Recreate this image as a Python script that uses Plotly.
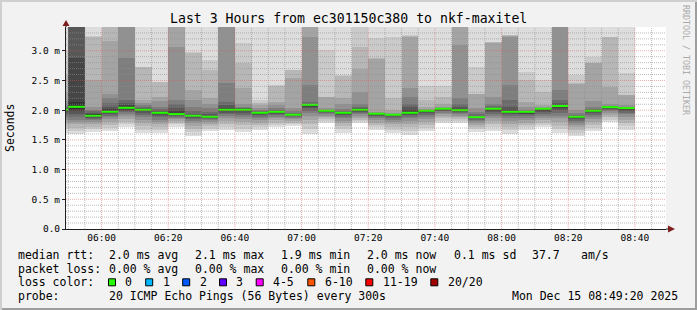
import plotly.graph_objects as go
import pandas as pd

# ---------------- data ----------------
TITLE = "Last 3 Hours from ec301150c380 to nkf-maxitel"
RANGE_START = "2025-12-15 05:49:20"
RANGE_END = "2025-12-15 08:49:20"
FIRST_BAR = "2025-12-15 05:45:00"
STEP_SECONDS = 300

# median rtt per 5-minute step (ms)
median_ms = [2.01, 2.057, 1.906, 1.973, 2.04, 2.007, 1.956, 1.934, 1.906, 1.889,
             2.007, 2.007, 1.956, 1.973, 1.923, 2.09, 1.99, 1.956, 2.007, 1.94,
             1.923, 1.956, 1.99, 2.024, 2.0, 1.884, 2.024, 1.973, 1.973, 2.024,
             2.07, 1.889, 1.99, 2.052, 2.035]

# upper pings per step, ping20 .. ping11 (ms)
upper_ms = [
    [3.6, 3.0, 2.6, 2.3, 2.15, 2.08, 2.05, 2.03, 2.02, 2.012],
    [3.6, 3.6, 3.6, 3.6, 3.6, 3.6, 3.6, 3.6, 2.87, 2.14],
    [3.6, 3.25, 3.24, 2.51, 2.06, 2.01, 1.98, 1.96, 1.94, 1.93],
    [3.6, 3.6, 3.6, 3.16, 2.28, 2.2, 2.12, 2.06, 2.02, 1.99],
    [3.6, 3.6, 3.6, 3.6, 3.6, 2.87, 2.17, 2.12, 2.08, 2.06],
    [3.6, 2.73, 2.72, 2.17, 2.12, 2.08, 2.05, 2.03, 2.02, 2.01],
    [3.6, 2.48, 2.47, 2.23, 2.15, 2.06, 2.02, 1.99, 1.97, 1.96],
    [3.6, 3.6, 3.6, 3.6, 3.07, 2.17, 2.1, 2.03, 1.98, 1.95],
    [3.6, 2.98, 2.96, 2.34, 2.17, 2.05, 1.98, 1.94, 1.92, 1.91],
    [3.6, 2.84, 2.68, 2.2, 2.1, 2.03, 1.97, 1.93, 1.91, 1.895],
    [3.6, 3.6, 3.6, 3.6, 3.6, 2.45, 2.13, 2.08, 2.04, 2.02],
    [3.6, 3.13, 2.79, 2.37, 2.1, 2.06, 2.04, 2.03, 2.02, 2.01],
    [3.6, 2.17, 2.12, 2.08, 2.03, 2.0, 1.98, 1.97, 1.96, 1.958],
    [3.6, 2.42, 2.41, 2.14, 2.08, 2.03, 2.0, 1.99, 1.98, 1.976],
    [3.6, 2.68, 2.67, 2.54, 2.03, 1.99, 1.96, 1.94, 1.93, 1.926],
    [3.6, 3.6, 3.6, 3.6, 3.24, 2.42, 2.13, 2.11, 2.1, 2.095],
    [3.6, 3.01, 2.23, 2.22, 2.03, 2.01, 2.0, 1.996, 1.994, 1.992],
    [3.6, 2.59, 2.58, 2.2, 2.1, 2.02, 1.99, 1.97, 1.96, 1.958],
    [3.6, 3.6, 3.07, 2.7, 2.3, 2.1, 2.05, 2.03, 2.02, 2.01],
    [3.6, 3.21, 2.87, 2.86, 1.97, 1.96, 1.95, 1.946, 1.943, 1.941],
    [3.6, 3.24, 2.2, 2.0, 1.96, 1.94, 1.93, 1.928, 1.926, 1.924],
    [3.6, 3.26, 3.25, 3.24, 2.37, 2.23, 2.1, 2.06, 2.0, 1.97],
    [3.6, 2.4, 2.17, 2.05, 2.02, 2.0, 1.996, 1.994, 1.992, 1.991],
    [3.6, 2.4, 2.23, 2.1, 2.06, 2.04, 2.03, 2.028, 2.026, 2.025],
    [3.6, 3.6, 3.6, 3.6, 3.1, 2.2, 2.1, 2.05, 2.02, 2.005],
    [3.6, 2.73, 2.28, 2.27, 2.03, 1.97, 1.93, 1.91, 1.895, 1.886],
    [3.6, 3.15, 3.14, 3.13, 2.23, 2.11, 2.07, 2.04, 2.03, 2.026],
    [3.6, 3.27, 3.26, 3.25, 3.24, 2.43, 2.17, 2.05, 2.0, 1.976],
    [3.6, 2.65, 2.51, 2.14, 2.05, 2.0, 1.985, 1.98, 1.976, 1.974],
    [3.6, 2.51, 2.31, 2.09, 2.05, 2.04, 2.03, 2.028, 2.026, 2.025],
    [3.6, 3.6, 3.6, 3.6, 3.6, 2.34, 2.17, 2.12, 2.09, 2.075],
    [3.6, 2.59, 2.45, 2.44, 2.0, 1.95, 1.92, 1.9, 1.895, 1.891],
    [3.6, 2.9, 2.8, 2.79, 2.15, 2.06, 2.02, 2.0, 1.995, 1.992],
    [3.6, 3.24, 3.23, 2.39, 2.1, 2.07, 2.06, 2.056, 2.054, 2.053],
    [3.6, 2.62, 2.26, 2.25, 2.09, 2.05, 2.045, 2.04, 2.037, 2.036],
]

# lower pings per step, ping1 .. ping10 (ms)
lower_ms = [
    [1.62, 1.68, 1.73, 1.78, 1.83, 1.87, 1.91, 1.95, 1.98, 2.0],
    [1.6, 1.65, 1.70, 1.76, 1.80, 1.84, 1.88, 1.93, 1.98, 2.02],
    [1.63, 1.68, 1.72, 1.76, 1.80, 1.83, 1.85, 1.87, 1.89, 1.90],
    [1.65, 1.70, 1.75, 1.80, 1.85, 1.88, 1.91, 1.93, 1.95, 1.965],
    [1.71, 1.76, 1.80, 1.85, 1.90, 1.94, 1.97, 1.99, 2.01, 2.03],
    [1.61, 1.67, 1.73, 1.79, 1.84, 1.88, 1.92, 1.95, 1.98, 2.0],
    [1.61, 1.66, 1.71, 1.76, 1.80, 1.84, 1.88, 1.91, 1.93, 1.95],
    [1.72, 1.76, 1.79, 1.82, 1.85, 1.87, 1.89, 1.91, 1.92, 1.93],
    [1.57, 1.63, 1.68, 1.73, 1.78, 1.82, 1.85, 1.87, 1.89, 1.90],
    [1.65, 1.69, 1.73, 1.77, 1.80, 1.83, 1.85, 1.87, 1.88, 1.885],
    [1.67, 1.72, 1.77, 1.82, 1.86, 1.90, 1.93, 1.96, 1.98, 2.0],
    [1.63, 1.69, 1.75, 1.80, 1.85, 1.89, 1.92, 1.95, 1.98, 2.0],
    [1.67, 1.71, 1.75, 1.79, 1.83, 1.86, 1.89, 1.92, 1.94, 1.95],
    [1.71, 1.75, 1.79, 1.83, 1.86, 1.89, 1.92, 1.94, 1.96, 1.97],
    [1.73, 1.76, 1.79, 1.82, 1.85, 1.87, 1.89, 1.90, 1.91, 1.92],
    [1.60, 1.68, 1.76, 1.84, 1.90, 1.95, 1.99, 2.03, 2.06, 2.08],
    [1.79, 1.82, 1.85, 1.88, 1.91, 1.93, 1.95, 1.97, 1.98, 1.985],
    [1.62, 1.68, 1.73, 1.78, 1.82, 1.86, 1.89, 1.92, 1.94, 1.95],
    [1.78, 1.81, 1.84, 1.87, 1.90, 1.93, 1.95, 1.97, 1.99, 2.0],
    [1.67, 1.71, 1.75, 1.79, 1.83, 1.86, 1.89, 1.91, 1.93, 1.935],
    [1.62, 1.67, 1.72, 1.76, 1.80, 1.84, 1.87, 1.89, 1.91, 1.92],
    [1.58, 1.65, 1.71, 1.77, 1.82, 1.86, 1.89, 1.92, 1.94, 1.95],
    [1.65, 1.70, 1.75, 1.80, 1.85, 1.89, 1.92, 1.95, 1.97, 1.985],
    [1.78, 1.82, 1.86, 1.90, 1.93, 1.96, 1.98, 2.0, 2.01, 2.02],
    [1.79, 1.82, 1.85, 1.88, 1.91, 1.93, 1.95, 1.97, 1.98, 1.995],
    [1.64, 1.68, 1.72, 1.75, 1.78, 1.81, 1.84, 1.86, 1.87, 1.88],
    [1.65, 1.71, 1.77, 1.82, 1.87, 1.91, 1.94, 1.97, 2.0, 2.02],
    [1.60, 1.66, 1.72, 1.77, 1.82, 1.86, 1.90, 1.93, 1.95, 1.97],
    [1.67, 1.71, 1.75, 1.79, 1.83, 1.87, 1.90, 1.93, 1.95, 1.97],
    [1.71, 1.75, 1.79, 1.83, 1.87, 1.91, 1.94, 1.97, 2.0, 2.02],
    [1.62, 1.68, 1.74, 1.80, 1.86, 1.91, 1.96, 2.0, 2.04, 2.06],
    [1.56, 1.61, 1.66, 1.71, 1.75, 1.79, 1.82, 1.85, 1.87, 1.885],
    [1.65, 1.70, 1.75, 1.80, 1.85, 1.89, 1.92, 1.95, 1.97, 1.985],
    [1.80, 1.84, 1.88, 1.92, 1.95, 1.98, 2.0, 2.02, 2.04, 2.05],
    [1.67, 1.73, 1.79, 1.84, 1.89, 1.93, 1.96, 1.99, 2.01, 2.03],
]

y_tick_vals = [0.0, 0.5, 1.0, 1.5, 2.0, 2.5, 3.0]
y_tick_text = ["0.0", "0.5 m", "1.0 m", "1.5 m", "2.0 m", "2.5 m", "3.0 m"]
x_tick_text = ["06:00", "06:20", "06:40", "07:00", "07:20", "07:40", "08:00", "08:20", "08:40"]

legend_rtt = ["2.0 ms avg", "2.1 ms max", "1.9 ms min", "2.0 ms now", "0.1 ms sd", "37.7", "am/s"]
legend_loss = ["0.00 % avg", "0.00 % max", "0.00 % min", "0.00 % now"]
loss_labels = ["0", "1", "2", "3", "4-5", "6-10", "11-19", "20/20"]
loss_colors = ["#26ff00", "#00b8ff", "#0059ff", "#5e00ff", "#ff00ff", "#ff5500", "#ff0000", "#a10000"]
probe_text = "20 ICMP Echo Pings (56 Bytes) every 300s"
stamp_text = "Mon Dec 15 08:49:20 2025"
watermark = "RRDTOOL / TOBI OETIKER"

# ---------------- geometry / style ----------------
FIG_W, FIG_H = 697, 310
L, T, W, H = 66, 27, 600, 202
Y_MAX = 3.4
MONO = "DejaVu Sans Mono"
BG = "#f2f2f2"


def fx(px):
    return (px - L) / W


def fy(py):
    return (T + H - py) / H


starts = pd.date_range(FIRST_BAR, periods=len(median_ms), freq=f"{STEP_SECONDS}s")
ends = starts + pd.Timedelta(seconds=STEP_SECONDS)
centers = starts + pd.Timedelta(seconds=STEP_SECONDS / 2)

fig = go.Figure()

# smoke: ibot = 1 (outer, lightest) .. 10 (inner, darkest)
half = 10
for ibot in range(1, half + 1):
    c = int(190 / half * (half - ibot)) + 50
    color = f"rgb({c},{c},{c})"
    lows = [lo[ibot - 1] for lo in lower_ms]
    highs = [up[ibot - 1] for up in upper_ms]
    fig.add_trace(go.Bar(
        x=centers, base=lows, y=[h - l for h, l in zip(highs, lows)],
        width=STEP_SECONDS * 1000, marker=dict(color=color, line=dict(width=0)),
        showlegend=False, hoverinfo="skip"))

# median segments
mx, my = [], []
for s, e, m in zip(starts, ends, median_ms):
    mx += [s, e, None]
    my += [m, m, None]
fig.add_trace(go.Scatter(x=mx, y=my, mode="lines", line=dict(color="#26ff00", width=2),
                         showlegend=False, hoverinfo="skip"))

shapes = []
# grid drawn over the data (as rrdtool does)
GRID = "rgba(143,143,143,0.6)"
MGRID = "rgba(222,79,79,0.45)"
n_minor_y = int(round(Y_MAX * 10))
for k in range(1, n_minor_y):
    v = k / 10
    major = (k % 5 == 0)
    shapes.append(dict(type="line", xref="paper", yref="y", x0=0, x1=1, y0=v, y1=v,
                       line=dict(color=MGRID if major else GRID, width=1, dash="1px,1px"),
                       layer="above"))
grid_times = pd.date_range("2025-12-15 05:50:00", "2025-12-15 08:45:00", freq="5min")
for t in grid_times:
    major = (t.minute % 20 == 0)
    shapes.append(dict(type="line", xref="x", yref="paper", x0=t, x1=t, y0=0, y1=1,
                       line=dict(color=MGRID if major else GRID, width=1, dash="1px,1px"),
                       layer="above"))

# frame (3D border)
shapes += [
    dict(type="rect", xref="paper", yref="paper", x0=fx(0), x1=fx(FIG_W), y0=fy(0), y1=fy(2),
         fillcolor="#cfcfcf", line=dict(width=0), layer="above"),
    dict(type="rect", xref="paper", yref="paper", x0=fx(0), x1=fx(2), y0=fy(0), y1=fy(FIG_H),
         fillcolor="#cfcfcf", line=dict(width=0), layer="above"),
    dict(type="rect", xref="paper", yref="paper", x0=fx(2), x1=fx(FIG_W), y0=fy(FIG_H - 2), y1=fy(FIG_H),
         fillcolor="#9e9e9e", line=dict(width=0), layer="above"),
    dict(type="rect", xref="paper", yref="paper", x0=fx(FIG_W - 2), x1=fx(FIG_W), y0=fy(2), y1=fy(FIG_H),
         fillcolor="#9e9e9e", line=dict(width=0), layer="above"),
]
# axis extensions and arrows
ARROW = "#801f1f"
shapes.append(dict(type="line", xref="paper", yref="paper", x0=1, x1=fx(L + W + 5), y0=0, y1=0,
                   line=dict(color="#1f1f1f", width=1), layer="above"))
shapes.append(dict(type="line", xref="paper", yref="paper", x0=0, x1=0, y0=1, y1=fy(T - 3),
                   line=dict(color="#1f1f1f", width=1), layer="above"))
shapes.append(dict(type="path", xref="paper", yref="paper",
                   path=f"M {fx(L + W + 2)},{fy(T + H - 3.5)} L {fx(L + W + 9)},{fy(T + H)} L {fx(L + W + 2)},{fy(T + H + 3.5)} Z",
                   fillcolor=ARROW, line=dict(width=0), layer="above"))
shapes.append(dict(type="path", xref="paper", yref="paper",
                   path=f"M {fx(L - 3.5)},{fy(T - 1)} L {fx(L)},{fy(T - 7)} L {fx(L + 3.5)},{fy(T - 1)} Z",
                   fillcolor=ARROW, line=dict(width=0), layer="above"))

annotations = []


def txt(x, y, s, size=11.5, anchor="left", color="#000000", angle=0):
    annotations.append(dict(xref="paper", yref="paper", x=fx(x), y=fy(y), text=s, showarrow=False,
                            xanchor=anchor, yanchor="middle", textangle=angle,
                            font=dict(family=MONO, size=size, color=color)))


# title, axis title, watermark
txt(348, 18.5, TITLE, size=13.2, anchor="center")
txt(10, 128, "Seconds", size=11.5, anchor="center", angle=-90)
txt(686, 60, watermark, size=8.3, anchor="center", color="#ababab", angle=90)

# legend rows
ROW_Y = [255, 268.5, 282.3, 296]
COL_X = [107.3, 193.3, 279.3, 365, 451.7, 530, 579.3]
txt(16, ROW_Y[0], "median rtt:")
for x, s in zip(COL_X, legend_rtt):
    txt(x, ROW_Y[0], s)
txt(16, ROW_Y[1], "packet loss:")
for x, s in zip(COL_X, legend_loss):
    txt(x, ROW_Y[1], s)
txt(16, ROW_Y[2], "loss color:")
BOX_X = [108.5, 145.7, 182.7, 219.5, 256.2, 307.8, 365.8, 430.8]
LBL_X = [123.3, 160.7, 197.7, 234.3, 271, 322.7, 380.7, 445.7]
for bx, lx, lab, col in zip(BOX_X, LBL_X, loss_labels, loss_colors):
    shapes.append(dict(type="rect", xref="paper", yref="paper", x0=fx(bx), x1=fx(bx + 7),
                       y0=fy(ROW_Y[2] + 3.5), y1=fy(ROW_Y[2] - 3.5), fillcolor=col,
                       line=dict(color="#000000", width=1), layer="above"))
    txt(lx, ROW_Y[2], lab)
txt(16, ROW_Y[3], "probe:")
txt(107.3, ROW_Y[3], probe_text)
txt(680, ROW_Y[3], stamp_text, anchor="right")

fig.update_layout(
    width=FIG_W, height=FIG_H,
    margin=dict(l=L, r=FIG_W - L - W, t=T, b=FIG_H - T - H, pad=0),
    paper_bgcolor=BG, plot_bgcolor="#ffffff",
    barmode="overlay", bargap=0,
    showlegend=False,
    shapes=shapes, annotations=annotations,
    font=dict(family=MONO, color="#000000"),
    xaxis=dict(type="date", range=[RANGE_START, RANGE_END], showgrid=False, zeroline=False,
               showline=True, linecolor="#1f1f1f", linewidth=1,
               tickvals=pd.date_range("2025-12-15 06:00", periods=len(x_tick_text), freq="20min"),
               ticktext=x_tick_text, ticks="", tickfont=dict(family=MONO, size=9.5, color="#000000"),
               fixedrange=True),
    yaxis=dict(range=[0, Y_MAX], showgrid=False, zeroline=False, showline=True,
               linecolor="#1f1f1f", linewidth=1, tickvals=y_tick_vals, ticktext=y_tick_text,
               ticks="outside", ticklen=3, tickcolor="#1f1f1f",
               tickfont=dict(family=MONO, size=9.5, color="#000000"), fixedrange=True),
)

fig.write_html("out.html")
